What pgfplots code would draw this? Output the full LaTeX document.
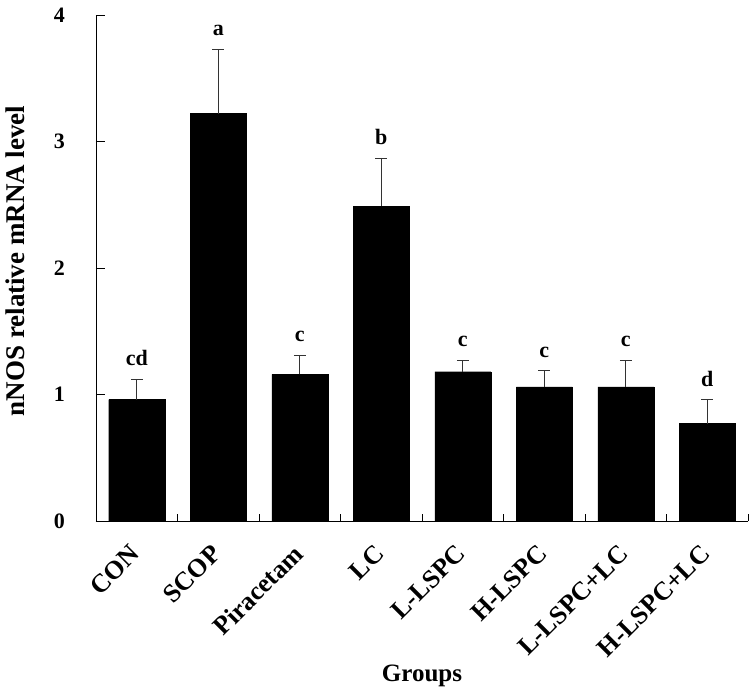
\documentclass[border=0pt]{standalone}
\usepackage{pgfplots}
\pgfplotsset{compat=1.18}
\usepackage{fontspec}
\setmainfont{Liberation Serif}
\usetikzlibrary{calc}

\begin{document}
\begin{tikzpicture}
\begin{axis}[
    name=ax,
    scale only axis,
    width=652pt, height=506pt,
    xmin=-0.5, xmax=7.5,
    ymin=0, ymax=4,
    axis x line*=bottom,
    axis y line*=left,
    axis line style={line width=0.8pt},
    tick align=inside,
    ytick={0,1,2,3,4},
    xtick={0,...,7},
    xticklabels={CON,SCOP,Piracetam,LC,L-LSPC,H-LSPC,L-LSPC+LC,H-LSPC+LC},
    minor xtick={0.5,1.5,...,7.5},
    major x tick style={draw=none},
    major tick length=9pt,
    minor tick length=7pt,
    every tick/.style={line width=0.8pt, black},
    /pgf/number format/assume math mode=true,
    yticklabel style={font=\fontsize{22}{26}\selectfont\bfseries, inner sep=0pt, xshift=-31pt},
    xticklabel style={font=\fontsize{26}{30}\selectfont\bfseries, inner sep=0pt,
        xshift=-8pt, yshift=-22pt, rotate=45, anchor=north east},
    ylabel={nNOS relative mRNA level},
    ylabel style={font=\fontsize{27}{32}\selectfont\bfseries, inner sep=0pt,
        at={(axis description cs:-0.109,0.514)}, anchor=south},
    xlabel={Groups},
    xlabel style={font=\fontsize{25}{30}\selectfont\bfseries, inner sep=0pt,
        at={(axis description cs:0.5,-0.318)}, anchor=base},
]
% means with upper error (SD)
\addplot[ybar, bar width=56pt, fill=black, draw=black,
    error bars/.cd, y dir=plus, y explicit,
    error bar style={line width=0.8pt, black!80},
    error mark options={rotate=90, mark size=6pt, line width=0.8pt, black!80}]
coordinates {
    (0,0.96) +- (0,0.16)
    (1,3.22) +- (0,0.51)
    (2,1.16) +- (0,0.15)
    (3,2.49) +- (0,0.38)
    (4,1.18) +- (0,0.09)
    (5,1.06) +- (0,0.13)
    (6,1.06) +- (0,0.21)
    (7,0.77) +- (0,0.19)
};
% significance letters above the error bars
\addplot[draw=none, nodes near coords, point meta=explicit symbolic,
    nodes near coords style={anchor=south, inner sep=0pt, yshift=13pt,
        font=\fontsize{22}{26}\selectfont\bfseries}]
coordinates {
    (0,1.12) [cd]
    (1,3.73) [a]
    (2,1.31) [c]
    (3,2.87) [b]
    (4,1.27) [c]
    (5,1.19) [c]
    (6,1.27) [c]
    (7,0.96) [d]
};
\end{axis}
\pgfresetboundingbox
\path ($(ax.south west)+(-96pt,-173pt)$) rectangle ($(ax.north east)+(7pt,15pt)$);
\end{tikzpicture}
\end{document}
